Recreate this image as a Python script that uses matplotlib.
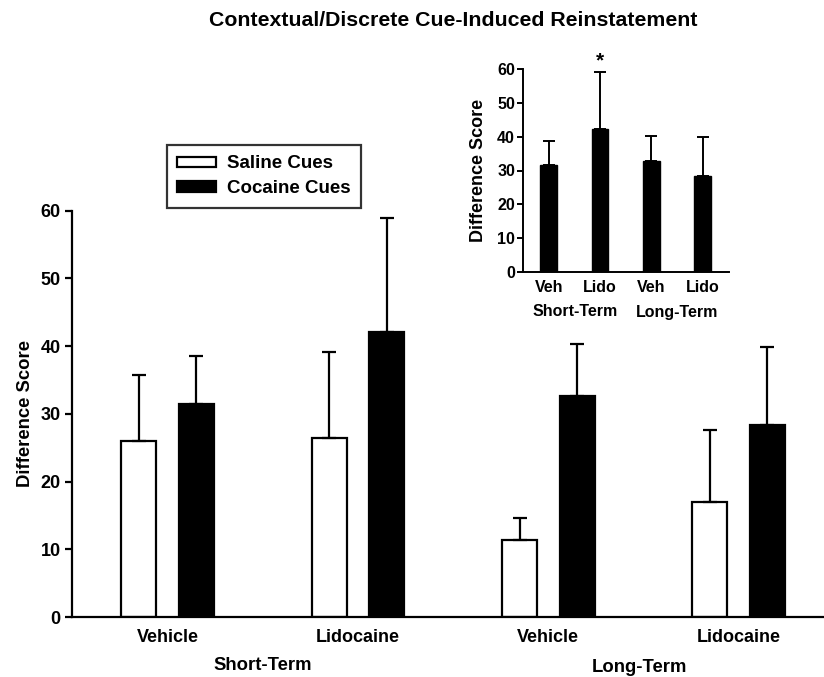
import matplotlib
matplotlib.use("Agg")
import matplotlib.pyplot as plt
from matplotlib.patches import Patch
import numpy as np

plt.rcParams['font.family'] = ['Liberation Sans', 'DejaVu Sans']
plt.rcParams['font.weight'] = 'bold'

# ---- data ----
title = "Contextual/Discrete Cue-Induced Reinstatement"
drug_labels = ["Vehicle", "Lidocaine", "Vehicle", "Lidocaine"]
phase_labels = ["Short-Term", "Long-Term"]
series_names = ["Saline Cues", "Cocaine Cues"]
saline_mean = [26.0, 26.4, 11.3, 17.0]
saline_sem = [9.7, 12.7, 3.3, 10.6]
cocaine_mean = [31.4, 42.1, 32.6, 28.4]
cocaine_sem = [7.2, 16.8, 7.7, 11.5]

inset_labels = ["Veh", "Lido", "Veh", "Lido"]
inset_mean = [31.5, 42.3, 32.8, 28.4]
inset_sem = [7.3, 16.7, 7.5, 11.5]
inset_sig = [False, True, False, False]

W, H = 824, 677
fig = plt.figure(figsize=(W / 100, H / 100), dpi=100)

# ---- main axes ----
ax = fig.add_axes([71.7 / W, 1 - 617 / H, (W - 71.7) / W, (617 - 210.7) / H])
x = np.arange(len(drug_labels))
bw = 0.184
off = 0.151
ekw = dict(ecolor='black', elinewidth=1.6, capsize=5, capthick=1.6)
ax.bar(x - off, saline_mean, bw, color='white', edgecolor='black', linewidth=1.6,
       yerr=[np.zeros(4), saline_sem], error_kw=ekw, label=series_names[0], zorder=2)
ax.bar(x + off, cocaine_mean, bw, color='black', edgecolor='black', linewidth=1.6,
       yerr=[np.zeros(4), cocaine_sem], error_kw=ekw, label=series_names[1], zorder=2)
ax.set_xlim(-0.503, 3.448)
ax.set_ylim(0, 60)
ax.set_yticks(np.arange(0, 61, 10))
ax.spines['top'].set_visible(False)
ax.spines['right'].set_visible(False)
ax.spines['left'].set_linewidth(1.6)
ax.spines['bottom'].set_linewidth(1.6)
ax.tick_params(axis='y', direction='out', length=5, width=1.6, labelsize=13, pad=3)
ax.set_xticks(x)
ax.set_xticklabels(drug_labels, fontsize=13, fontweight='bold')
ax.tick_params(axis='x', length=0, pad=9)
for t in ax.get_yticklabels():
    t.set_fontweight('bold')
ax.set_ylabel("Difference Score", fontsize=13.3, fontweight='bold', labelpad=5)
for i, lab in enumerate(phase_labels):
    ax.annotate(lab, xy=(0.5 + 2 * i - 0.02 * i, 0), xycoords=('data', 'axes fraction'),
                xytext=(0, -49 - 1 * i), textcoords='offset pixels',
                ha='center', va='center', fontsize=13.3, fontweight='bold')

handles = [Patch(facecolor='white', edgecolor='black', linewidth=1.6),
           Patch(facecolor='black', edgecolor='black', linewidth=1.6)]
leg = fig.legend(handles, series_names, loc='upper left',
                 bbox_to_anchor=(167 / W, 1 - 145 / H), bbox_transform=fig.transFigure,
                 fancybox=False, frameon=True, edgecolor='black', fontsize=13.5,
                 handlelength=2.05, handleheight=0.45, handletextpad=0.6,
                 labelspacing=0.42, borderpad=0.55, borderaxespad=0)
leg.get_frame().set_linewidth(1.6)
for t in leg.get_texts():
    t.set_fontweight('bold')

fig.text(453 / W, 1 - 20 / H, title, ha='center', va='center', fontsize=15.3, fontweight='bold')

# ---- inset axes ----
axi = fig.add_axes([523.3 / W, 1 - 272 / H, (728.7 - 523.3) / W, (272 - 69) / H])
xi = np.arange(len(inset_labels))
ekw2 = dict(ecolor='black', elinewidth=1.4, capsize=4, capthick=1.4)
axi.bar(xi, inset_mean, 0.33, color='black', edgecolor='black',
        yerr=[np.zeros(4), inset_sem], error_kw=ekw2, zorder=2)
axi.set_xlim(-0.495, 3.51)
axi.set_ylim(0, 60)
axi.set_yticks(np.arange(0, 61, 10))
axi.spines['top'].set_visible(False)
axi.spines['right'].set_visible(False)
axi.spines['left'].set_linewidth(1.4)
axi.spines['bottom'].set_linewidth(1.4)
axi.tick_params(axis='y', direction='out', length=4, width=1.4, labelsize=11.5, pad=2)
for t in axi.get_yticklabels():
    t.set_fontweight('bold')
axi.set_xticks(xi)
axi.set_xticklabels(inset_labels, fontsize=11.5, fontweight='bold')
axi.tick_params(axis='x', length=0, pad=6)
axi.set_ylabel("Difference Score", fontsize=13, fontweight='bold', labelpad=7)
for i, lab in enumerate(phase_labels):
    axi.annotate(lab, xy=(0.51 + 1.985 * i, 0), xycoords=('data', 'axes fraction'),
                 xytext=(0, -40 - 1 * i), textcoords='offset pixels',
                 ha='center', va='center', fontsize=11.5, fontweight='bold')
for i, sig in enumerate(inset_sig):
    if sig:
        axi.annotate('*', xy=(xi[i], inset_mean[i] + inset_sem[i]), xycoords='data',
                     xytext=(0, 11), textcoords='offset pixels',
                     ha='center', va='center', fontsize=15, fontweight='bold')

fig.savefig("out.png", dpi=100)
